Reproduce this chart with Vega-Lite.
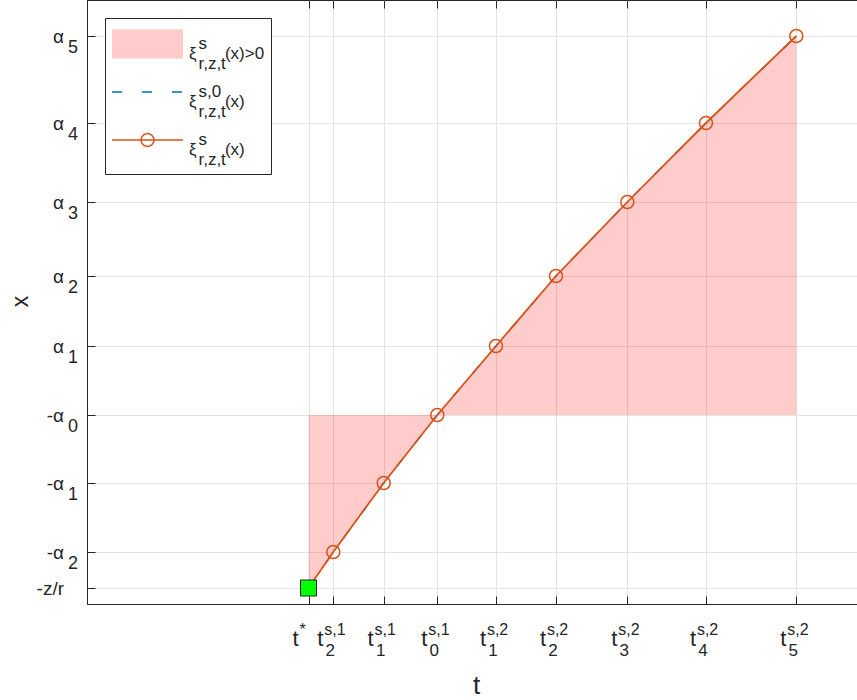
{
  "$schema": "https://vega.github.io/schema/vega-lite/v6.json",
  "width": 770,
  "height": 604,
  "autosize": {"type": "none"},
  "padding": {"left": 87, "top": 0, "right": 0, "bottom": 96},
  "background": "white",
  "config": {
    "font": "Liberation Sans",
    "axis": {
      "labelOverlap": false, "labelFlush": false, "labelBound": false,
      "labelColor": "#262626", "titleColor": "#262626", "domainColor": "#262626", "tickColor": "#262626",
      "gridColor": "#E3E3E3", "gridWidth": 1, "labelFont": "Liberation Sans", "titleFont": "Liberation Sans",
      "titleFontWeight": "normal", "domainWidth": 1, "tickWidth": 1
    },
    "legend": {
      "orient": "top-left", "offset": 18, "padding": 6,
      "strokeColor": "#262626", "fillColor": "#FFFFFF",
      "symbolSize": 5041, "clipHeight": 40, "rowPadding": -5, "labelOffset": 5,
      "labelFontSize": 17, "labelFont": "Liberation Sans", "labelColor": "#262626", "labelLimit": 300
    },
    "view": {"stroke": "#262626", "strokeWidth": 1}
  },
  "data": {"values": [
    {"k": "tstar", "t": 221.5, "v": 16},
    {"k": "t2s1", "t": 246.3, "v": 52},
    {"k": "t1s1", "t": 296.7, "v": 121},
    {"k": "t0s1", "t": 350.3, "v": 189},
    {"k": "t1s2", "t": 409, "v": 258},
    {"k": "t2s2", "t": 469, "v": 328},
    {"k": "t3s2", "t": 540.3, "v": 402},
    {"k": "t4s2", "t": 619, "v": 481},
    {"k": "t5s2", "t": 709.3, "v": 568}
  ]},
  "layer": [
    {
      "mark": {"type": "area", "opacity": 0.2},
      "encoding": {
        "x": {"field": "t", "type": "quantitative", "scale": {"domain": [0, 770], "nice": false, "zero": false},
          "axis": {"orient": "bottom", "values": [221.5, 246.3, 296.7, 350.3, 409, 469, 540.3, 619, 709.3],
            "tickSize": -8, "labelPadding": 49.7, "labelOffset": -10.5, "labelAlign": "right", "labelBaseline": "alphabetic",
            "labelFontSize": 22, "labelExpr": "'t'", "grid": true, "domain": true, "ticks": true,
            "title": "t", "titleFontSize": 26, "titleX": 389, "titleY": 89, "titleBaseline": "alphabetic", "titleAlign": "center",
            "encode": {"labels": {"update": {"dx": {"signal": "datum.value < 230 ? 8 : 0"}}}}}},
        "y": {"field": "v", "type": "quantitative", "scale": {"domain": [0, 604], "nice": false, "zero": false},
          "axis": {"orient": "left", "values": [16, 52, 121, 189, 258, 328, 402, 481, 568],
            "tickSize": -8, "labelPadding": 31.5, "labelAlign": "right", "labelBaseline": "middle", "labelFontSize": 19,
            "labelExpr": "datum.value < 30 ? '-z/r' : datum.value < 200 ? '-α' : 'α'",
            "grid": true, "title": "x", "titleFontSize": 23, "titleX": -60, "titleY": 301, "titleAngle": 270,
            "titleBaseline": "alphabetic", "titleAlign": "center",
            "encode": {"labels": {"update": {"fontSize": {"signal": "datum.value < 30 ? 21 : 19"}, "dx": {"signal": "datum.value < 30 ? 9 : 0"}}}}}},
        "y2": {"datum": 189},
        "color": {"datum": "A", "scale": {"domain": ["A", "B", "C"], "range": ["#FF0000", "#0072BD", "#D95319"]},
          "legend": {
            "title": null,
            "labelExpr": "datum.label == 'A' ? ['\u200b\u00a0\u00a0s', 'ξ\u00a0\u00a0\u00a0\u00a0\u00a0\u00a0(x)>0', '\u200b\u00a0\u00a0r,z,t'] : datum.label == 'B' ? ['\u200b\u00a0\u00a0s,0', 'ξ\u00a0\u00a0\u00a0\u00a0\u00a0\u00a0(x)', '\u200b\u00a0\u00a0r,z,t'] : ['\u200b\u00a0\u00a0s', 'ξ\u00a0\u00a0\u00a0\u00a0\u00a0\u00a0(x)', '\u200b\u00a0\u00a0r,z,t']",
            "encode": {
              "symbols": {"update": {
                "shape": {"signal": "datum.value == 'A' ? 'M-1,-0.41L1,-0.41L1,0.41L-1,0.41Z' : datum.value == 'B' ? 'M-1,0L1,0' : 'M-1,0L1,0M0.18,0A0.18,0.18 0 1,1 -0.18,0A0.18,0.18 0 1,1 0.18,0'"},
                "size": {"value": 5041},
                "fillOpacity": {"signal": "datum.value == 'A' ? 0.2 : 0"},
                "strokeOpacity": {"signal": "datum.value == 'A' ? 0 : 1"},
                "strokeDash": {"signal": "datum.value == 'B' ? [10, 20] : [1, 0]"},
                "strokeWidth": {"value": 1.5},
                "opacity": {"value": 1}
              }},
              "labels": {"update": {"lineHeight": {"value": 10}}}
            }
          }}
      }
    },
    {
      "mark": {"type": "line", "strokeDash": [10, 20], "strokeWidth": 1.5},
      "encoding": {
        "x": {"field": "t", "type": "quantitative", "scale": {"domain": [0, 770], "nice": false, "zero": false},
          "axis": {"orient": "bottom", "values": [221.5, 246.3, 296.7, 350.3, 409, 469, 540.3, 619, 709.3],
            "ticks": false, "domain": false, "grid": false, "title": null,
            "labelPadding": 30, "labelOffset": -9.6, "labelAlign": "left", "labelBaseline": "alphabetic", "labelFontSize": 16,
            "labelExpr": "datum.value < 230 ? '*' : datum.value < 400 ? 's,1' : 's,2'",
            "encode": {"labels": {"update": {"dx": {"signal": "datum.value < 230 ? 8 : 0"}, "dy": {"signal": "datum.value < 230 ? -3 : 0"}}}}}},
        "y": {"field": "v", "type": "quantitative", "scale": {"domain": [0, 604], "nice": false, "zero": false},
          "axis": {"orient": "left", "values": [16, 52, 121, 189, 258, 328, 402, 481, 568],
            "ticks": false, "domain": false, "grid": false, "title": null,
            "labelPadding": 9.5, "labelOffset": 16, "labelAlign": "right", "labelBaseline": "alphabetic", "labelFontSize": 18,
            "labelExpr": "datum.value < 30 ? '' : datum.value < 80 ? '2' : datum.value < 150 ? '1' : datum.value < 220 ? '0' : datum.value < 290 ? '1' : datum.value < 360 ? '2' : datum.value < 440 ? '3' : datum.value < 520 ? '4' : '5'"}},
        "color": {"datum": "B",
          "legend": {
            "title": null,
            "labelExpr": "datum.label == 'A' ? ['\u200b\u00a0\u00a0s', 'ξ\u00a0\u00a0\u00a0\u00a0\u00a0\u00a0(x)>0', '\u200b\u00a0\u00a0r,z,t'] : datum.label == 'B' ? ['\u200b\u00a0\u00a0s,0', 'ξ\u00a0\u00a0\u00a0\u00a0\u00a0\u00a0(x)', '\u200b\u00a0\u00a0r,z,t'] : ['\u200b\u00a0\u00a0s', 'ξ\u00a0\u00a0\u00a0\u00a0\u00a0\u00a0(x)', '\u200b\u00a0\u00a0r,z,t']",
            "encode": {
              "symbols": {"update": {
                "shape": {"signal": "datum.value == 'A' ? 'M-1,-0.41L1,-0.41L1,0.41L-1,0.41Z' : datum.value == 'B' ? 'M-1,0L1,0' : 'M-1,0L1,0M0.18,0A0.18,0.18 0 1,1 -0.18,0A0.18,0.18 0 1,1 0.18,0'"},
                "size": {"value": 5041},
                "fillOpacity": {"signal": "datum.value == 'A' ? 0.2 : 0"},
                "strokeOpacity": {"signal": "datum.value == 'A' ? 0 : 1"},
                "strokeDash": {"signal": "datum.value == 'B' ? [10, 20] : [1, 0]"},
                "strokeWidth": {"value": 1.5},
                "opacity": {"value": 1}
              }},
              "labels": {"update": {"lineHeight": {"value": 10}}}
            }
          }}
      }
    },
    {
      "mark": {"type": "line", "strokeWidth": 1.8},
      "encoding": {
        "x": {"field": "t", "type": "quantitative", "scale": {"domain": [0, 770], "nice": false, "zero": false},
          "axis": {"orient": "bottom", "values": [221.5, 246.3, 296.7, 350.3, 409, 469, 540.3, 619, 709.3],
            "ticks": false, "domain": false, "grid": false, "title": null,
            "labelPadding": 51, "labelOffset": -8.3, "labelAlign": "left", "labelBaseline": "alphabetic", "labelFontSize": 17,
            "labelExpr": "datum.value < 230 ? '' : datum.value < 260 ? '2' : datum.value < 320 ? '1' : datum.value < 380 ? '0' : datum.value < 440 ? '1' : datum.value < 500 ? '2' : datum.value < 580 ? '3' : datum.value < 650 ? '4' : '5'"}},
        "y": {"field": "v", "type": "quantitative", "scale": {"domain": [0, 604], "nice": false, "zero": false}, "axis": null},
        "color": {"datum": "C",
          "legend": {
            "title": null,
            "labelExpr": "datum.label == 'A' ? ['\u200b\u00a0\u00a0s', 'ξ\u00a0\u00a0\u00a0\u00a0\u00a0\u00a0(x)>0', '\u200b\u00a0\u00a0r,z,t'] : datum.label == 'B' ? ['\u200b\u00a0\u00a0s,0', 'ξ\u00a0\u00a0\u00a0\u00a0\u00a0\u00a0(x)', '\u200b\u00a0\u00a0r,z,t'] : ['\u200b\u00a0\u00a0s', 'ξ\u00a0\u00a0\u00a0\u00a0\u00a0\u00a0(x)', '\u200b\u00a0\u00a0r,z,t']",
            "encode": {
              "symbols": {"update": {
                "shape": {"signal": "datum.value == 'A' ? 'M-1,-0.41L1,-0.41L1,0.41L-1,0.41Z' : datum.value == 'B' ? 'M-1,0L1,0' : 'M-1,0L1,0M0.18,0A0.18,0.18 0 1,1 -0.18,0A0.18,0.18 0 1,1 0.18,0'"},
                "size": {"value": 5041},
                "fillOpacity": {"signal": "datum.value == 'A' ? 0.2 : 0"},
                "strokeOpacity": {"signal": "datum.value == 'A' ? 0 : 1"},
                "strokeDash": {"signal": "datum.value == 'B' ? [10, 20] : [1, 0]"},
                "strokeWidth": {"value": 1.5},
                "opacity": {"value": 1}
              }},
              "labels": {"update": {"lineHeight": {"value": 10}}}
            }
          }}
      }
    },
    {
      "transform": [{"filter": "datum.k != 'tstar'"}],
      "mark": {"type": "point", "filled": false, "size": 169, "strokeWidth": 1.5, "opacity": 1},
      "encoding": {
        "x": {"field": "t", "type": "quantitative", "scale": {"domain": [0, 770], "nice": false, "zero": false},
          "axis": {"orient": "top", "values": [221.5, 246.3, 296.7, 350.3, 409, 469, 540.3, 619, 709.3],
            "tickSize": -8, "labels": false, "domain": false, "grid": false, "title": null}},
        "y": {"field": "v", "type": "quantitative", "scale": {"domain": [0, 604], "nice": false, "zero": false}, "axis": null},
        "color": {"datum": "C",
          "legend": {
            "title": null,
            "labelExpr": "datum.label == 'A' ? ['\u200b\u00a0\u00a0s', 'ξ\u00a0\u00a0\u00a0\u00a0\u00a0\u00a0(x)>0', '\u200b\u00a0\u00a0r,z,t'] : datum.label == 'B' ? ['\u200b\u00a0\u00a0s,0', 'ξ\u00a0\u00a0\u00a0\u00a0\u00a0\u00a0(x)', '\u200b\u00a0\u00a0r,z,t'] : ['\u200b\u00a0\u00a0s', 'ξ\u00a0\u00a0\u00a0\u00a0\u00a0\u00a0(x)', '\u200b\u00a0\u00a0r,z,t']",
            "encode": {
              "symbols": {"update": {
                "shape": {"signal": "datum.value == 'A' ? 'M-1,-0.41L1,-0.41L1,0.41L-1,0.41Z' : datum.value == 'B' ? 'M-1,0L1,0' : 'M-1,0L1,0M0.18,0A0.18,0.18 0 1,1 -0.18,0A0.18,0.18 0 1,1 0.18,0'"},
                "size": {"value": 5041},
                "fillOpacity": {"signal": "datum.value == 'A' ? 0.2 : 0"},
                "strokeOpacity": {"signal": "datum.value == 'A' ? 0 : 1"},
                "strokeDash": {"signal": "datum.value == 'B' ? [10, 20] : [1, 0]"},
                "strokeWidth": {"value": 1.5},
                "opacity": {"value": 1}
              }},
              "labels": {"update": {"lineHeight": {"value": 10}}}
            }
          }}
      }
    },
    {
      "transform": [{"filter": "datum.k == 'tstar'"}],
      "mark": {"type": "square", "filled": true, "fill": "#00FF00", "stroke": "#262626", "strokeWidth": 1, "size": 256, "opacity": 1},
      "encoding": {
        "x": {"field": "t", "type": "quantitative", "scale": {"domain": [0, 770], "nice": false, "zero": false}, "axis": null},
        "y": {"field": "v", "type": "quantitative", "scale": {"domain": [0, 604], "nice": false, "zero": false}, "axis": null}
      }
    }
  ],
  "resolve": {"axis": {"x": "independent", "y": "independent"}}
}
